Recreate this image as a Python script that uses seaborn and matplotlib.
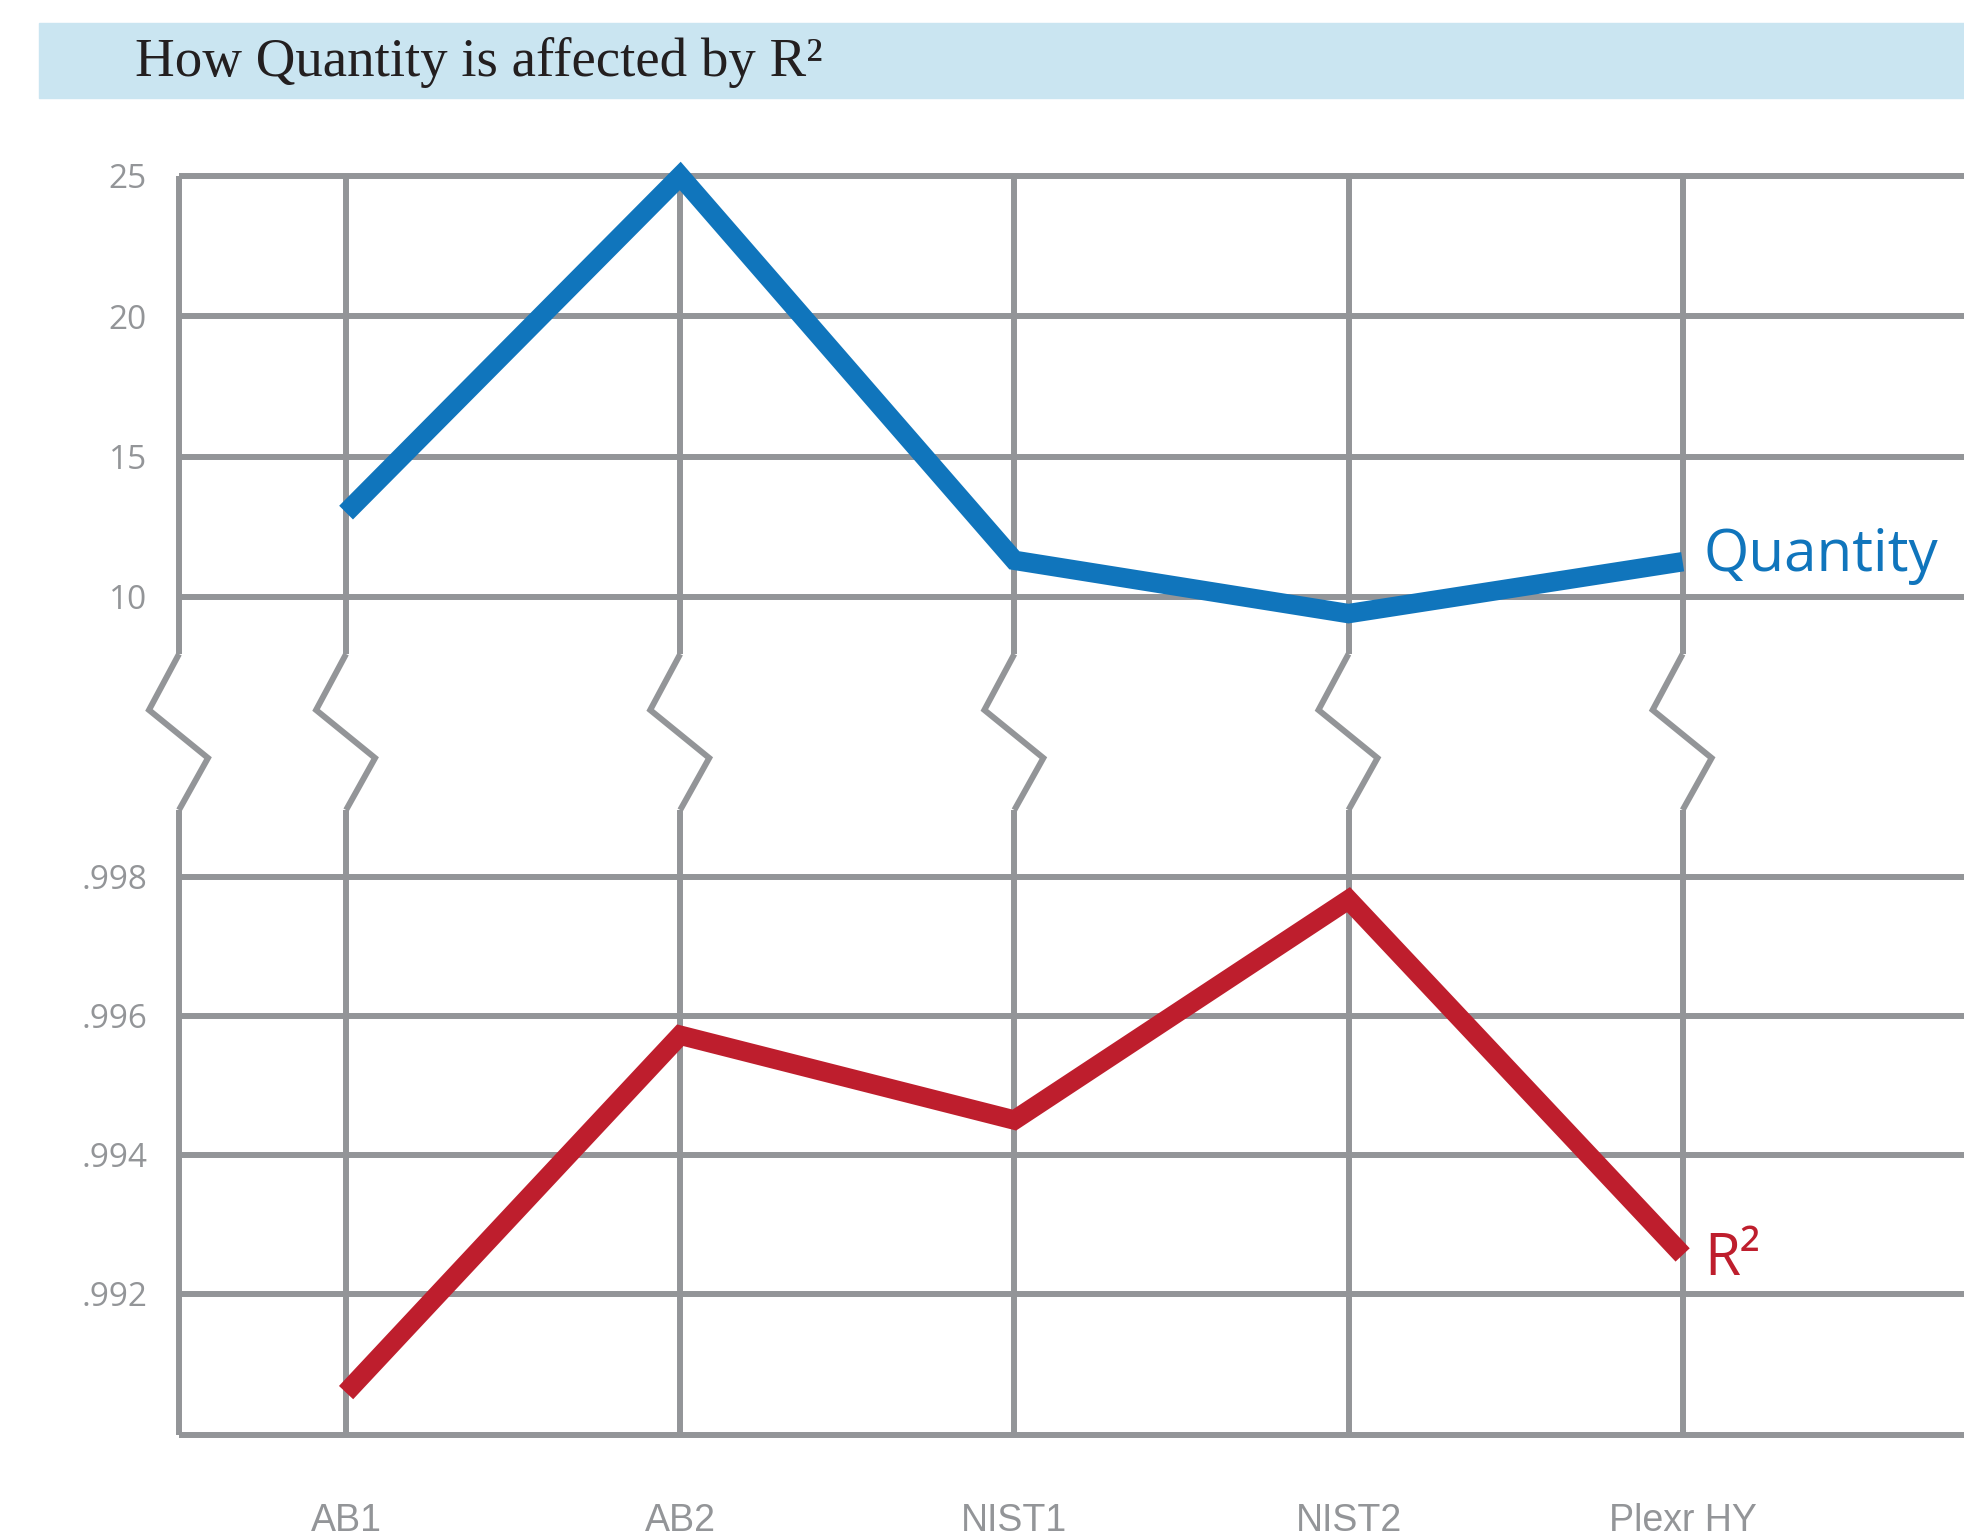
import numpy as np
import pandas as pd
import matplotlib
matplotlib.use("Agg")
import matplotlib.pyplot as plt
import seaborn as sns
from matplotlib.lines import Line2D
from matplotlib.patches import Rectangle
from matplotlib import font_manager as fm

# ---------------- data ----------------
categories = ["AB1", "AB2", "NIST1", "NIST2", "Plexr HY"]
quantity = [13.0, 25.0, 11.3, 9.4, 11.25]
r_squared = [0.99058, 0.99572, 0.99450, 0.99767, 0.99256]
quantity_ticks = [10, 15, 20, 25]
r2_ticks = [0.992, 0.994, 0.996, 0.998]
title = "How Quantity is affected by R²"

# ---------------- style ----------------
sns.set_theme(style="white")
plt.rcParams['font.family'] = ['Open Sans', 'DejaVu Sans']

avail = {f.name for f in fm.fontManager.ttflist}
narrow = 'Liberation Sans Narrow' if 'Liberation Sans Narrow' in avail else 'Liberation Sans'

GREY = "#939598"
BLUE = "#1075BC"
RED = "#BE1E2D"
BANNER = "#CAE5F1"
GRID_LW = 4.3
DATA_LW = 14

W, H = 1965, 1531
fig = plt.figure(figsize=(W / 100, H / 100), dpi=100)


def rect(l, t, r, b):
    return [l / W, 1 - b / H, (r - l) / W, (b - t) / H]


# banner + title
fig.patches.append(Rectangle((39 / W, 1 - 98 / H), 1 - 39 / W, 75 / H,
                             transform=fig.transFigure, color=BANNER, zorder=0))
fig.text(135 / W, 1 - 63 / H, title, family=['Liberation Serif', 'DejaVu Serif'],
         size=39.5, va='center', ha='left', color="#231F20")

ax_top = fig.add_axes(rect(179, 176, 1965, 654))
ax_bot = fig.add_axes(rect(179, 810, 1965, 1435))

XLIM = (-0.5, 4.845)
df = pd.DataFrame({"category": categories, "Quantity": quantity, "R2": r_squared})

for ax in (ax_top, ax_bot):
    ax.set_xlim(*XLIM)
    for s in ax.spines.values():
        s.set_visible(False)
    ax.patch.set_alpha(0)

ax_top.set_ylim(7.96, 25)
ax_bot.set_ylim(0.98997, 0.99896)

# grid
for ax, ticks in ((ax_top, quantity_ticks), (ax_bot, r2_ticks)):
    for t in ticks:
        ax.axhline(t, color=GREY, lw=GRID_LW, clip_on=False, zorder=1, solid_capstyle='butt')
    for x in [-0.5] + list(range(len(categories))):
        ax.axvline(x, color=GREY, lw=GRID_LW, clip_on=False, zorder=1, solid_capstyle='butt')
ax_bot.axhline(ax_bot.get_ylim()[0], color=GREY, lw=GRID_LW, clip_on=False, zorder=1,
               solid_capstyle='butt')

# data lines
sns.lineplot(data=df, x="category", y="Quantity", ax=ax_top, color=BLUE, lw=DATA_LW,
             sort=False, zorder=3)
sns.lineplot(data=df, x="category", y="R2", ax=ax_bot, color=RED, lw=DATA_LW,
             sort=False, zorder=3)
for ax in (ax_top, ax_bot):
    for ln in ax.get_lines():
        if ln.get_linewidth() == DATA_LW:
            ln.set_clip_on(False)
            ln.set_solid_joinstyle('miter')
            ln.set_solid_capstyle('butt')
    ax.set_xlim(*XLIM)
    ax.set_xlabel("")
    ax.set_ylabel("")

# ticks
ax_top.set_yticks(quantity_ticks)
ax_top.set_yticklabels([f"{t:d}" for t in quantity_ticks])
ax_bot.set_yticks(r2_ticks)
ax_bot.set_yticklabels([f"{t:.3f}".lstrip('0') for t in r2_ticks])
for ax in (ax_top, ax_bot):
    ax.tick_params(axis='y', length=0, pad=23, labelsize=24, labelcolor=GREY)
ax_top.set_xticks([])
ax_bot.set_xticks(range(len(categories)))
ax_bot.set_xticklabels(categories, family=[narrow, 'DejaVu Sans'], fontsize=27, color=GREY)
ax_bot.tick_params(axis='x', length=0, pad=49)
for lab in ax_bot.get_xticklabels():
    lab.set_verticalalignment('top')
ax_bot.set_ylim(0.98997, 0.99896)
ax_top.set_ylim(7.96, 25)

# broken-axis zigzags
pts = [(0, 654), (-30, 710), (29, 758), (0, 810)]
for x in [-0.5] + list(range(len(categories))):
    xp = ax_top.transData.transform((x, 0))[0]
    xs = [(xp + dx) / W for dx, _ in pts]
    ys = [1 - yy / H for _, yy in pts]
    fig.add_artist(Line2D(xs, ys, transform=fig.transFigure, color=GREY, lw=GRID_LW,
                          solid_joinstyle='miter', solid_capstyle='butt', zorder=1))

# series labels
ax_top.annotate("Quantity", xy=(len(categories) - 1, quantity[-1]), xytext=(21, -9),
                textcoords='offset pixels', color=BLUE, fontsize=42,
                va='baseline', ha='left', annotation_clip=False)
ax_bot.annotate("R²", xy=(len(categories) - 1, r_squared[-1]), xytext=(22, -20),
                textcoords='offset pixels', color=RED, fontsize=42,
                va='baseline', ha='left', annotation_clip=False)

fig.savefig("out.png", dpi=100)
